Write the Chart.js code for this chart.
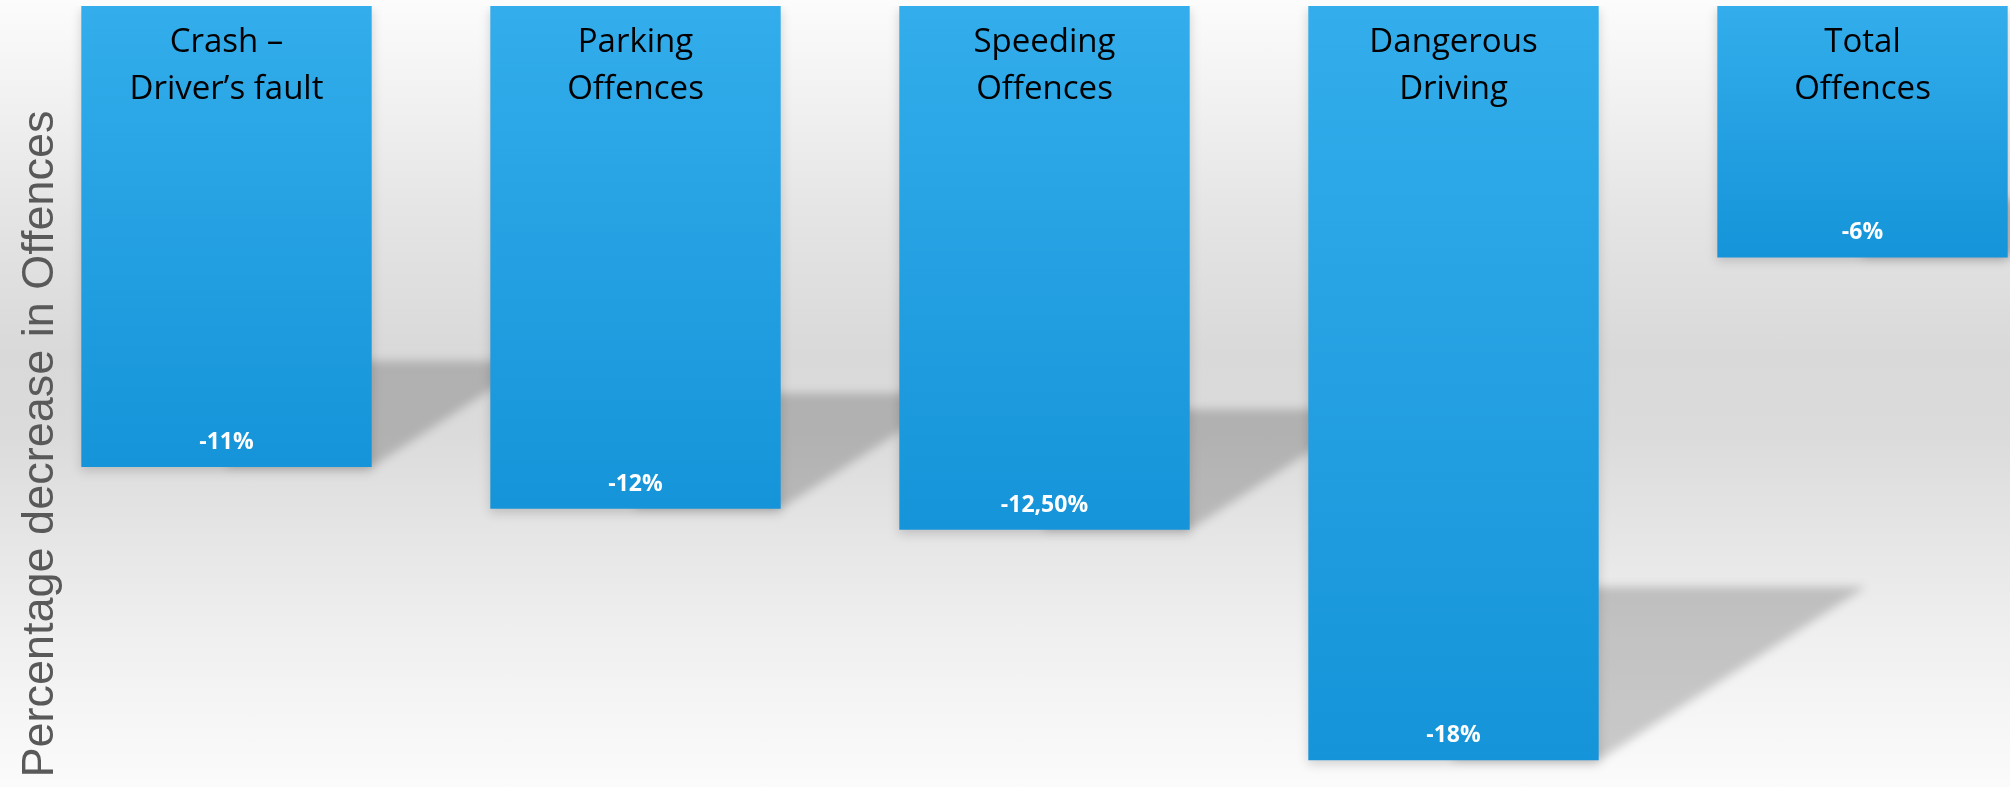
<!DOCTYPE html>
<html>
<head>
<meta charset="utf-8">
<title>Percentage decrease in Offences</title>
<script src="https://cdn.jsdelivr.net/npm/chart.js@4.4.1/dist/chart.umd.min.js"></script>
<style>
    html, body { margin: 0; padding: 0; width: 2010px; height: 787px; overflow: hidden; }
    body { background: linear-gradient(to bottom, #fcfcfc 0%, #e4e4e4 28%, #d9d9d9 45%, #dbdbdb 55%, #efefef 80%, #fbfbfb 100%); }
    canvas { display: block; }
</style>
</head>
<body>
<canvas id="offenceschart" width="2067" height="787"></canvas>
<script>
"use strict";

/* chart data */
var categories = [
    ['Crash –', 'Driver’s fault'],
    ['Parking', 'Offences'],
    ['Speeding', 'Offences'],
    ['Dangerous', 'Driving'],
    ['Total', 'Offences']
];
var decreaseValues = [-11, -12, -12.5, -18, -6];
var axisTitle = 'Percentage decrease in Offences';

function formatPercent(v) {
    if (Number.isInteger(v)) {
        return v + '%';
    }
    return v.toFixed(2).replace('.', ',') + '%';
}

document.addEventListener("DOMContentLoaded", function () {
    var ctx = document.getElementById('offenceschart').getContext('2d');

    /* grey cast shadow behind each bar + soft drop shadow */
    var barShadows = {
        id: 'barShadows',
        beforeDatasetsDraw: function (chart) {
            var c = chart.ctx;
            var bars = chart.getDatasetMeta(0).data;
            c.save();
            c.filter = 'blur(5px)';
            c.fillStyle = 'rgba(0, 0, 0, 0.19)';
            bars.forEach(function (bar) {
                var h = bar.y - bar.base;
                var right = bar.x + bar.width / 2;
                var sh = h * 0.23;
                c.beginPath();
                c.moveTo(bar.x, bar.y - sh);
                c.lineTo(right + sh * 1.54, bar.y - sh);
                c.lineTo(right, bar.y);
                c.lineTo(bar.x, bar.y);
                c.closePath();
                c.fill();
            });
            c.restore();
            c.save();
            c.shadowColor = 'rgba(0, 0, 0, 0.16)';
            c.shadowBlur = 10;
            c.shadowOffsetY = 4;
        },
        afterDatasetsDraw: function (chart) {
            chart.ctx.restore();
        }
    };

    /* category names at the top of the bars, values near the bar ends, axis title */
    var barTexts = {
        id: 'barTexts',
        afterDatasetsDraw: function (chart) {
            var c = chart.ctx;
            var bars = chart.getDatasetMeta(0).data;
            c.save();
            c.textAlign = 'center';
            c.textBaseline = 'alphabetic';
            bars.forEach(function (bar, i) {
                c.fillStyle = '#000000';
                c.font = '33px "Open Sans"';
                chart.data.labels[i].forEach(function (line, j) {
                    c.fillText(line, bar.x, bar.base + 46 + j * 47);
                });
                c.fillStyle = '#ffffff';
                c.font = 'bold 23px "Open Sans"';
                c.fillText(formatPercent(chart.data.datasets[0].data[i]), bar.x, bar.y - 18);
            });
            c.restore();

            c.save();
            c.translate(53, 444);
            c.rotate(-Math.PI / 2);
            c.textAlign = 'center';
            c.textBaseline = 'alphabetic';
            c.font = '45px "Liberation Sans"';
            c.fillStyle = '#595959';
            c.fillText(axisTitle, 0, 0);
            c.restore();
        }
    };

    var offencesConfig = {
        type: 'bar',
        data: {
            labels: categories,
            datasets: [{
                label: axisTitle,
                data: decreaseValues,
                backgroundColor: function (context) {
                    var chart = context.chart;
                    var y = chart.scales.y;
                    if (!y || context.type !== 'data') {
                        return '#25a0e2';
                    }
                    var top = y.getPixelForValue(0);
                    var bottom = y.getPixelForValue(context.raw);
                    if (!isFinite(top) || !isFinite(bottom) || top === bottom) {
                        return '#25a0e2';
                    }
                    var g = chart.ctx.createLinearGradient(0, top, 0, bottom);
                    g.addColorStop(0, '#33adeb');
                    g.addColorStop(1, '#1594d9');
                    return g;
                },
                borderWidth: 0,
                categoryPercentage: 1,
                barPercentage: 0.71
            }]
        },
        options: {
            responsive: false,
            animation: false,
            layout: {
                padding: { left: 22, top: 6, right: 0, bottom: 0 }
            },
            plugins: {
                legend: { display: false },
                tooltip: { enabled: false }
            },
            scales: {
                x: {
                    display: false,
                    offset: true
                },
                y: {
                    display: false,
                    min: -18.64,
                    max: 0
                }
            }
        },
        plugins: [barShadows, barTexts]
    };
    new Chart(ctx, offencesConfig);
});
</script>
</body>
</html>
